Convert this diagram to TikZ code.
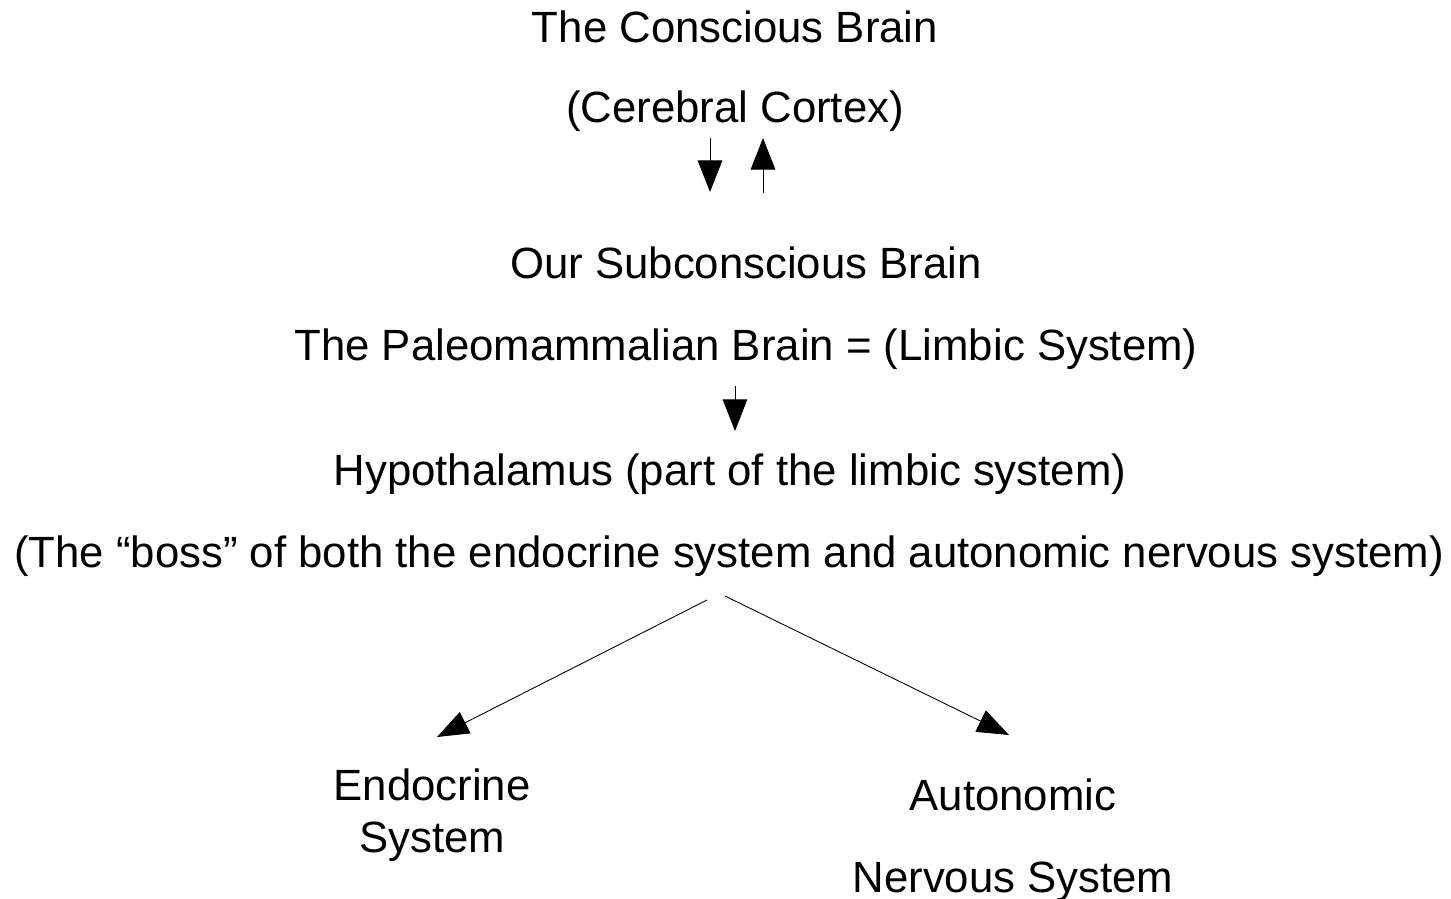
\documentclass[tikz,border=0pt]{standalone}
\usepackage{fontspec}
\setmainfont{Liberation Sans}
\usetikzlibrary{arrows.meta}
\begin{document}
\begin{tikzpicture}[x=0.02cm,y=-0.02cm,
  lbl/.style={anchor=base,inner sep=0pt,font=\fontsize{24.9pt}{29pt}\selectfont},
  arr/.style={line width=0.5pt,-{Triangle[length=18pt,width=13.5pt]}},
  arrs/.style={line width=0.5pt,-{Triangle[length=18pt,width=14pt]}}]
\useasboundingbox (0,0) rectangle (1451,899);
\node[lbl] (t1) at (735,42) {The Conscious Brain};
\node[lbl] (t2) at (735,122) {(Cerebral Cortex)};
\node[lbl] (t3) at (746,278) {Our Subconscious Brain};
\node[lbl] (t4) at (746,360) {The Paleomammalian Brain = (Limbic System)};
\node[lbl] (t5) at (730,485) {Hypothalamus (part of the limbic system)};
\node[lbl] (t6) at (729,567) {(The “boss” of both the endocrine system and autonomic nervous system)};
\node[lbl] (e1) at (432,800) {Endocrine};
\node[lbl] (e2) at (432,852) {System};
\node[lbl] (a1) at (1013,810) {Autonomic};
\node[lbl] (a2) at (1013,892) {Nervous System};
\coordinate (d1s) at (710,138); \coordinate (d1e) at (710,192);
\coordinate (u1s) at (763,193); \coordinate (u1e) at (763,138);
\coordinate (d2s) at (735,386); \coordinate (d2e) at (735,431);
\coordinate (ls) at (707,600); \coordinate (le) at (437,737);
\coordinate (rs) at (725,596); \coordinate (re) at (1009,735);
\draw[arrs] (d1s) -- (d1e);
\draw[arrs] (u1s) -- (u1e);
\draw[arrs] (d2s) -- (d2e);
\draw[arr] (ls) -- (le);
\draw[arr] (rs) -- (re);
\end{tikzpicture}
\end{document}
